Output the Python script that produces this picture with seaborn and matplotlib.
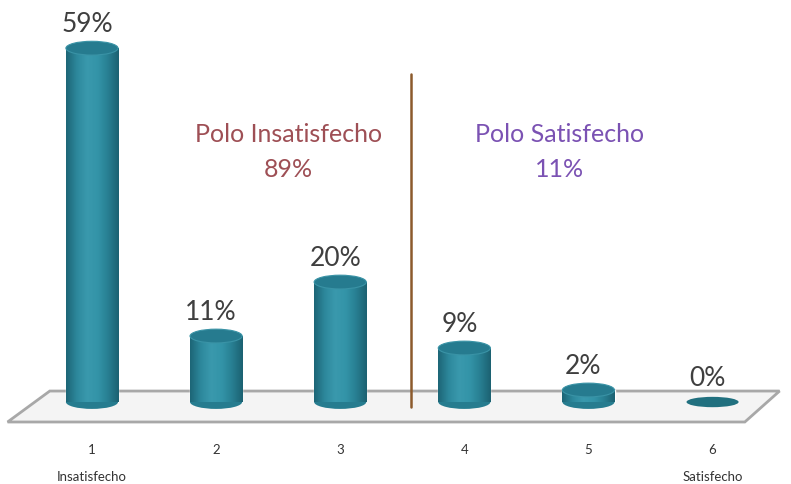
import numpy as np
import matplotlib.pyplot as plt
import seaborn as sns
from matplotlib.patches import Ellipse, Polygon
from matplotlib.colors import LinearSegmentedColormap

sns.set_style('white')
plt.rcParams['font.family'] = ['Lato', 'DejaVu Sans']

categories = ['1', '2', '3', '4', '5', '6']
values = [59, 11, 20, 9, 2, 0]
end_labels = ['Insatisfecho', '', '', '', '', 'Satisfecho']
pole_names = ['Polo Insatisfecho', 'Polo Satisfecho']
pole_values = [89, 11]
pole_colors = ['#9e4f55', '#7b52b3']

fig = plt.figure(figsize=(7.91, 4.85), dpi=100)
ax = fig.add_axes([0, 0, 1, 1])

bw = 0.42
eh = 2.3  # ellipse height (data units) for the cylinder caps
sns.barplot(x=categories, y=values, color='#2b8599', width=bw, saturation=1,
            ax=ax, zorder=3)

# floor
floor = Polygon([(-0.34, 1.83), (5.54, 1.83), (5.26, -3.33), (-0.68, -3.33)],
                closed=True, facecolor='#f4f4f4', edgecolor='#a8a8a8', lw=2, zorder=1)
ax.add_patch(floor)

cmap = LinearSegmentedColormap.from_list(
    'cyl', ['#1d6677', '#2d889c', '#3a99ad', '#3394a8', '#287f92', '#1c6272'])
grad = np.linspace(0, 1, 64).reshape(1, -1)

for i, p in enumerate(list(ax.patches)[:len(values)]):
    x0, w, h = p.get_x(), p.get_width(), p.get_height()
    cx = x0 + w / 2
    if h > 0:
        im = ax.imshow(grad, cmap=cmap, extent=(x0, x0 + w, 0, h), aspect='auto',
                       zorder=4, interpolation='bicubic')
        im.set_clip_path(p)
        ax.add_patch(Ellipse((cx, 0), w, eh, facecolor='#267c8f', edgecolor='none', zorder=3.5))
        ax.add_patch(Ellipse((cx, h), w, eh, facecolor='#267b8f',
                             edgecolor='#3a93a6', lw=0.8, zorder=5))
    else:
        ax.add_patch(Ellipse((cx, 0), w, eh * 0.75, facecolor='#21707f',
                             edgecolor='none', zorder=5))
    ax.text(cx - 0.04, h + eh / 2 + 0.9, f'{values[i]}%', ha='center', va='bottom',
            fontsize=19, color='#3f3f3f', zorder=6)
    ax.text(cx, -7.9, categories[i], ha='center', va='center', fontsize=9.5, color='#333333')
    if end_labels[i]:
        ax.text(cx, -12.4, end_labels[i], ha='center', va='center', fontsize=9.5,
                color='#333333')

# dividing line between the poles
ax.plot([2.57, 2.57], [-0.8, 54.7], color='#8c5a2c', lw=1.8, zorder=2)

for xc, name, val, col in zip([1.58, 3.77], pole_names, pole_values, pole_colors):
    ax.text(xc, 44.7, name, ha='center', va='center', fontsize=18, color=col)
    ax.text(xc, 39.0, f'{val}%', ha='center', va='center', fontsize=18, color=col)

ax.set_xlim(-0.741, 5.632)
ax.set_ylim(-13.67, 67.2)
ax.axis('off')

fig.savefig('out.png', dpi=100)
